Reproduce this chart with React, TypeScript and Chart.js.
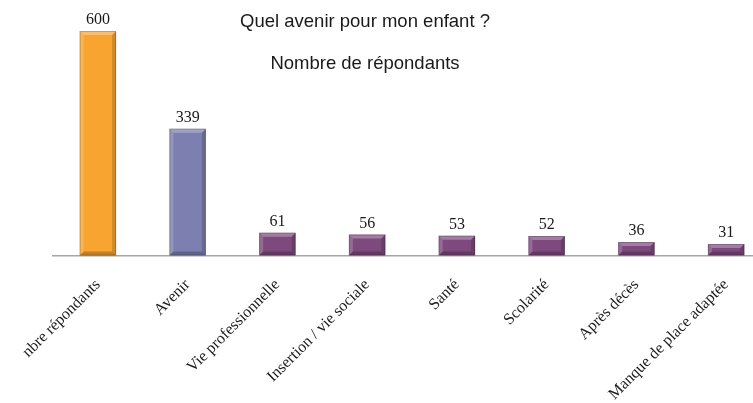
import React, { useEffect, useRef } from "react";
import { Chart, registerables } from "chart.js";

Chart.register(...registerables);

const categories = [
  "nbre répondants",
  "Avenir",
  "Vie professionnelle",
  "Insertion / vie sociale",
  "Santé",
  "Scolarité",
  "Après décès",
  "Manque de place adaptée",
];
const values = [600, 339, 61, 56, 53, 52, 36, 31];
const barColors = ["#F8A431", "#7C7FAF", "#7E4A7E", "#7E4A7E", "#7E4A7E", "#7E4A7E", "#7E4A7E", "#7E4A7E"];
const titleLines = ["Quel avenir pour mon enfant ?", "Nombre de répondants"];

const bevelPlugin = {
  id: "bevel",
  afterDatasetsDraw(chart: any) {
    const ctx = chart.ctx;
    const meta = chart.getDatasetMeta(0);
    meta.data.forEach((el: any, idx: number) => {
      const l = el.x - el.width / 2;
      const r = el.x + el.width / 2;
      const t = el.y;
      const b = el.base;
      const s = Math.min(4, (b - t) / 2);
      const poly = (pts: number[][], fill: string) => {
        ctx.beginPath();
        ctx.moveTo(pts[0][0], pts[0][1]);
        for (let i = 1; i < pts.length; i++) ctx.lineTo(pts[i][0], pts[i][1]);
        ctx.closePath();
        ctx.fillStyle = fill;
        ctx.fill();
      };
      ctx.save();
      poly([[l, t], [r, t], [r - s, t + s], [l + s, t + s]], "rgba(255,255,255,0.28)");
      poly([[l, t], [l + s, t + s], [l + s, b - s], [l, b]], "rgba(255,255,255,0.18)");
      poly([[r, t], [r, b], [r - s, b - s], [r - s, t + s]], "rgba(0,0,0,0.16)");
      poly([[l, b], [r, b], [r - s, b - s], [l + s, b - s]], "rgba(0,0,0,0.22)");
      ctx.strokeStyle = "rgba(0,0,0,0.18)";
      ctx.lineWidth = 1;
      ctx.strokeRect(l + 0.5, t + 0.5, r - l - 1, b - t - 1);
      ctx.restore();
      ctx.save();
      ctx.fillStyle = "#1a1a1a";
      ctx.font = "16px 'Liberation Serif', serif";
      ctx.textAlign = "center";
      ctx.textBaseline = "alphabetic";
      ctx.fillText(String(values[idx]), el.x, t - 7);
      ctx.restore();
    });
  },
};

const titlePlugin = {
  id: "titles",
  afterDraw(chart: any) {
    const ctx = chart.ctx;
    ctx.save();
    ctx.fillStyle = "#1a1a1a";
    ctx.font = "18.5px 'Liberation Sans', Arial, sans-serif";
    ctx.textAlign = "center";
    ctx.textBaseline = "middle";
    ctx.fillText(titleLines[0], 365, 22);
    ctx.fillText(titleLines[1], 365, 64);
    ctx.restore();
  },
};

export default function App() {
  const ref = useRef<HTMLCanvasElement>(null);
  useEffect(() => {
    document.body.style.margin = "0";
    const chart = new Chart(ref.current as HTMLCanvasElement, {
      type: "bar",
      data: {
        labels: categories,
        datasets: [
          {
            data: values,
            backgroundColor: barColors,
            borderWidth: 0,
            barPercentage: 0.406,
            categoryPercentage: 1,
          },
        ],
      },
      options: {
        responsive: false,
        animation: false,
        layout: { padding: { top: 31, left: 53, right: 0, bottom: 0 } },
        plugins: { legend: { display: false }, tooltip: { enabled: false }, title: { display: false } },
        scales: {
          y: { display: false, min: 0, max: 600 },
          x: {
            grid: { display: false, drawTicks: false },
            border: { display: true, color: "#A6A6A6", width: 1.5 },
            ticks: {
              autoSkip: false,
              minRotation: 45,
              maxRotation: 45,
              padding: 20,
              color: "#1a1a1a",
              font: { family: "'Liberation Serif', serif", size: 16 },
            },
            afterFit(scale: any) {
              scale.height = 403 - 255.5;
              scale.paddingLeft = 0;
              scale.paddingRight = 0;
            },
          },
        },
      },
      plugins: [bevelPlugin, titlePlugin],
    });
    return () => chart.destroy();
  }, []);
  return (
    <div style={{ position: "fixed", left: 0, top: 0, width: 753, height: 403, overflow: "hidden", background: "#fff" }}>
      <canvas ref={ref} width={771} height={403} style={{ display: "block" }} />
    </div>
  );
}
